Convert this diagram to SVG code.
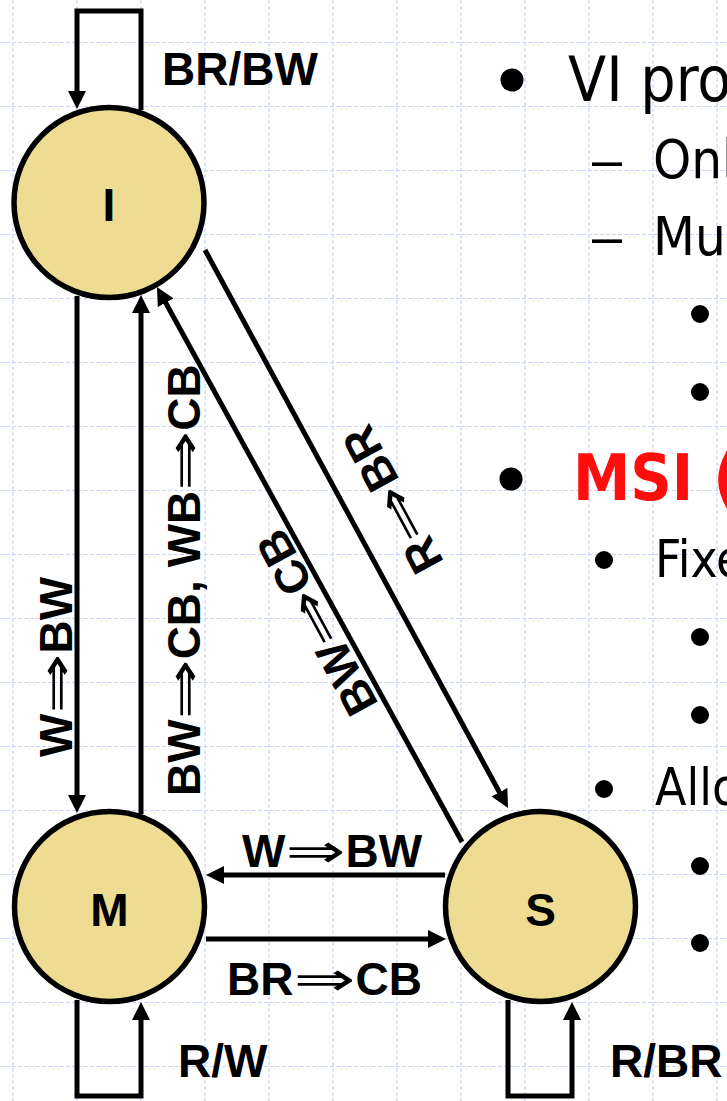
<svg xmlns="http://www.w3.org/2000/svg" width="727" height="1101" viewBox="0 0 727 1101">
<style>
.grid line{stroke:#c9d6f7;stroke-width:1.2;stroke-dasharray:4 2}
.node circle{fill:#eedc92;stroke:#000;stroke-width:5.5}
.lbl{font-family:"Liberation Sans",Arial,sans-serif;font-weight:bold;font-size:46px;fill:#000}
.arr{font-family:"DejaVu Sans",sans-serif;font-weight:normal}
.conn line,.conn polyline{stroke:#000;stroke-width:5;fill:none}
.txt{font-family:"DejaVu Sans Condensed","DejaVu Sans",sans-serif;fill:#000}
.dash{font-family:"Liberation Sans",Arial,sans-serif;font-size:54px;fill:#000}
</style>
<defs>
<marker id="ah" markerUnits="userSpaceOnUse" markerWidth="18" markerHeight="18" refX="2" refY="9" orient="auto">
<path d="M0,0 L18,9 L0,18 z" fill="#000"/>
</marker>
</defs>
<rect width="727" height="1101" fill="#fff"/>
<g class="grid">
<line x1="13" y1="0" x2="13" y2="1101"/><line x1="77" y1="0" x2="77" y2="1101"/><line x1="141" y1="0" x2="141" y2="1101"/><line x1="205" y1="0" x2="205" y2="1101"/><line x1="269" y1="0" x2="269" y2="1101"/><line x1="333" y1="0" x2="333" y2="1101"/><line x1="397" y1="0" x2="397" y2="1101"/><line x1="461" y1="0" x2="461" y2="1101"/><line x1="525" y1="0" x2="525" y2="1101"/><line x1="589" y1="0" x2="589" y2="1101"/><line x1="653" y1="0" x2="653" y2="1101"/><line x1="717" y1="0" x2="717" y2="1101"/>
<line x1="0" y1="42.5" x2="727" y2="42.5"/><line x1="0" y1="106.5" x2="727" y2="106.5"/><line x1="0" y1="170.5" x2="727" y2="170.5"/><line x1="0" y1="234.5" x2="727" y2="234.5"/><line x1="0" y1="298.5" x2="727" y2="298.5"/><line x1="0" y1="362.5" x2="727" y2="362.5"/><line x1="0" y1="426.5" x2="727" y2="426.5"/><line x1="0" y1="490.5" x2="727" y2="490.5"/><line x1="0" y1="554.5" x2="727" y2="554.5"/><line x1="0" y1="618.5" x2="727" y2="618.5"/><line x1="0" y1="682.5" x2="727" y2="682.5"/><line x1="0" y1="746.5" x2="727" y2="746.5"/><line x1="0" y1="810.5" x2="727" y2="810.5"/><line x1="0" y1="874.5" x2="727" y2="874.5"/><line x1="0" y1="938.5" x2="727" y2="938.5"/><line x1="0" y1="1002.5" x2="727" y2="1002.5"/><line x1="0" y1="1066.5" x2="727" y2="1066.5"/>
</g>
<g id="node-I" class="node"><circle cx="109" cy="202.5" r="95"/><text class="lbl" x="109" y="221" text-anchor="middle">I</text></g>
<g id="node-M" class="node"><circle cx="109.5" cy="906.5" r="95"/><text class="lbl" x="109.5" y="926" text-anchor="middle">M</text></g>
<g id="node-S" class="node"><circle cx="540.5" cy="906.5" r="95"/><text class="lbl" x="540.5" y="926" text-anchor="middle">S</text></g>
<g id="connectors" class="conn">
<polyline points="141,110 141,11 77,11 77,93" marker-end="url(#ah)"/>
<line x1="77" y1="296" x2="77" y2="797" marker-end="url(#ah)"/>
<line x1="141" y1="814" x2="141" y2="311" marker-end="url(#ah)"/>
<line x1="462" y1="842" x2="164.7" y2="301" marker-end="url(#ah)"/>
<line x1="205" y1="250" x2="500.4" y2="794" marker-end="url(#ah)"/>
<line x1="445" y1="875" x2="222" y2="875" marker-end="url(#ah)"/>
<line x1="206" y1="939" x2="430" y2="939" marker-end="url(#ah)"/>
<polyline points="77,1000 77,1096 141,1096 141,1018" marker-end="url(#ah)"/>
<polyline points="508,1000 508,1096 572,1096 572,1018" marker-end="url(#ah)"/>
</g>
<g id="labels">
<text class="lbl" x="162" y="85">BR/BW</text>
<text class="lbl" x="242" y="867">W<tspan class="arr" textLength="60" lengthAdjust="spacingAndGlyphs">⇒</tspan>BW</text>
<text class="lbl" x="227" y="995">BR<tspan class="arr" textLength="62" lengthAdjust="spacingAndGlyphs">⇒</tspan>CB</text>
<text class="lbl" x="178" y="1077">R/W</text>
<text class="lbl" x="610" y="1077">R/BR</text>
<text class="lbl" transform="translate(71.7,757) rotate(-90)">W<tspan class="arr" textLength="60" lengthAdjust="spacingAndGlyphs">⇒</tspan>BW</text>
<text class="lbl" transform="translate(200,796) rotate(-90)">BW<tspan class="arr" textLength="60" lengthAdjust="spacingAndGlyphs">⇒</tspan>CB, WB<tspan class="arr" textLength="60" lengthAdjust="spacingAndGlyphs">⇒</tspan>CB</text>
<text class="lbl" text-anchor="middle" transform="translate(330.5,615) rotate(-118.5)">BW<tspan class="arr" textLength="60" lengthAdjust="spacingAndGlyphs">⇒</tspan>CB</text>
<text class="lbl" text-anchor="middle" transform="translate(406.5,492) rotate(-118.5)">R<tspan class="arr" textLength="60" lengthAdjust="spacingAndGlyphs">⇒</tspan>BR</text>
</g>
<g id="bullets">
<circle cx="512" cy="80" r="11.5"/>
<text class="txt" x="568" y="101" font-size="62">VI pro</text>
<text class="dash" x="592" y="178">–</text>
<text class="txt" x="653" y="178" font-size="54">Onl</text>
<text class="dash" x="592" y="255">–</text>
<text class="txt" x="653" y="255" font-size="54">Mu</text>
<circle cx="700" cy="314" r="9"/>
<circle cx="700" cy="392" r="9"/>
<circle cx="511" cy="479" r="11.5"/>
<text class="txt" x="573" y="500" font-size="64" font-weight="bold" style="fill:#ff0d0d">MSI (</text>
<circle cx="604" cy="560" r="9"/>
<text class="txt" x="655" y="577" font-size="51">Fixe</text>
<circle cx="700" cy="637" r="9"/>
<circle cx="700" cy="715" r="9"/>
<circle cx="604" cy="789" r="9"/>
<text class="txt" x="655" y="805" font-size="51">Allo</text>
<circle cx="700" cy="866" r="9"/>
<circle cx="700" cy="943" r="9"/>
</g>
</svg>
